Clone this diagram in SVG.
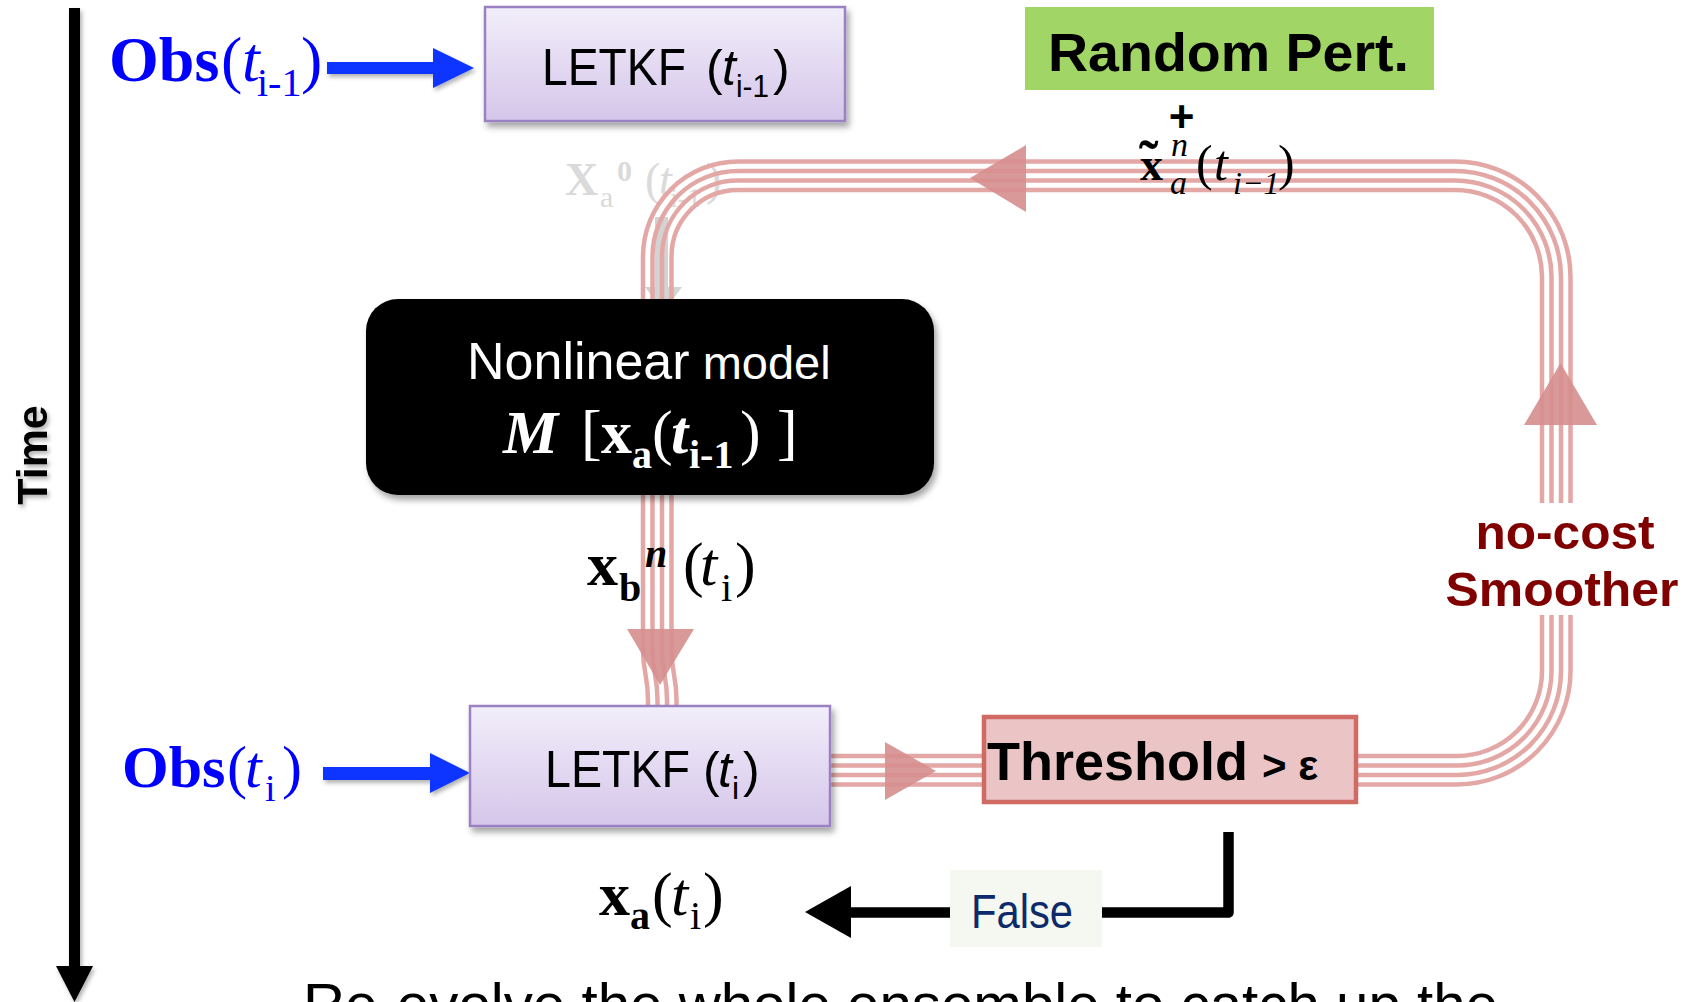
<svg xmlns="http://www.w3.org/2000/svg" width="1686" height="1002" viewBox="0 0 1686 1002">
  <defs>
    <linearGradient id="letkfFill" x1="0" y1="0" x2="0" y2="1">
      <stop offset="0" stop-color="#f2eefa"/>
      <stop offset="1" stop-color="#d5c6ea"/>
    </linearGradient>
    <filter id="shadow" x="-20%" y="-20%" width="140%" height="150%">
      <feDropShadow dx="3" dy="5" stdDeviation="3" flood-color="#000" flood-opacity="0.35"/>
    </filter>
    <filter id="softShadow" x="-20%" y="-40%" width="140%" height="180%">
      <feDropShadow dx="2" dy="3" stdDeviation="2" flood-color="#000" flood-opacity="0.3"/>
    </filter>
  </defs>
  <style>
    .serif { font-family: "Liberation Serif", "Times New Roman", serif; }
    .sans { font-family: "Liberation Sans", Arial, sans-serif; }
    .bold { font-weight: bold; }
    .ital { font-style: italic; }
    .obs { fill: #0000ff; }
    .loop { fill: none; stroke: #e3a8a6; stroke-width: 4.5; }
    .loophead { fill: #d68e8e; fill-opacity: 0.9; }
    .blue { fill: #0a35ff; }
    .letkf { fill: url(#letkfFill); stroke: #9a82c2; stroke-width: 2.5; }
    .faded { fill: #dadada; }
  </style>

  <rect width="1686" height="1002" fill="#ffffff"/>

  <!-- time axis -->
  <g id="time-axis" filter="url(#softShadow)">
    <line x1="74.5" y1="8" x2="74.5" y2="970" stroke="#000" stroke-width="11"/>
    <polygon points="56,966 93,966 74.5,1002" fill="#000"/>
    <text class="sans bold" font-size="43" text-anchor="middle" transform="translate(47,455) rotate(-90)">Time</text>
  </g>

  <!-- faded initial-state label and its small arrow -->
  <g id="initial-state">
    <text class="serif faded" font-size="46"><tspan font-weight="bold" x="565" y="195">X</tspan><tspan font-size="30" x="600" y="207">a</tspan><tspan font-size="30" font-weight="bold" x="617" y="181">0</tspan><tspan x="645" y="195">(</tspan><tspan font-style="italic" x="659" y="195">t</tspan><tspan font-size="28" x="670" y="207">i-1</tspan><tspan x="706" y="195">)</tspan></text>
    <rect x="655" y="217" width="13" height="72" fill="#d3d3d3"/>
    <polygon points="645,287 682,287 663.5,312" fill="#d3d3d3"/>
  </g>

  <!-- connectors -->
  <g id="connectors">
    <!-- iteration loop: four parallel strands -->
    <g id="loop">
      <path class="loop" d="M828 756 H1457 A85 85 0 0 0 1542 671 V615"/>
      <path class="loop" d="M828 765.5 H1457 A94.5 94.5 0 0 0 1551.5 671 V615"/>
      <path class="loop" d="M828 775 H1457 A104 104 0 0 0 1561 671 V615"/>
      <path class="loop" d="M828 784.5 H1457 A113.5 113.5 0 0 0 1570.5 671 V615"/>

      <path class="loop" d="M1542 503 V277 A87 87 0 0 0 1455 190 H738 A66.5 66.5 0 0 0 671.5 256.5 V650 C671.5 672 676.5 676 676.5 700 V708"/>
      <path class="loop" d="M1551.5 503 V277 A96.5 96.5 0 0 0 1455 180.5 H738 A76 76 0 0 0 662 256.5 V650 C662 672 667 676 667 700 V708"/>
      <path class="loop" d="M1561 503 V277 A106 106 0 0 0 1455 171 H738 A85.5 85.5 0 0 0 652.5 256.5 V650 C652.5 672 657.5 676 657.5 700 V708"/>
      <path class="loop" d="M1570.5 503 V277 A115.5 115.5 0 0 0 1455 161.5 H738 A95 95 0 0 0 643 256.5 V650 C643 672 648 676 648 700 V708"/>

      <polygon class="loophead" points="627,629 694,629 660,685"/>
      <polygon class="loophead" points="885,742 885,800 936,771"/>
      <polygon class="loophead" points="1524,425 1597,425 1560.5,363"/>
      <polygon class="loophead" points="1026,145 1026,212 970,178"/>
    </g>

    <!-- observation arrows -->
    <g id="obs-arrows" filter="url(#softShadow)">
      <rect class="blue" x="327" y="62" width="108" height="12"/>
      <polygon class="blue" points="433,48 433,88 474,68"/>
      <rect class="blue" x="323" y="767" width="109" height="13"/>
      <polygon class="blue" points="430,753 430,793 470,773"/>
    </g>

    <!-- false branch -->
    <g id="false-arrow">
      <path d="M1228.5 832 V912.5 H846" fill="none" stroke="#000" stroke-width="10.5" stroke-linejoin="round"/>
      <polygon points="851,886 851,938 805,912" fill="#000"/>
    </g>
  </g>

  <!-- observation labels -->
  <g id="obs-prev">
    <text class="serif obs" font-size="64"><tspan font-weight="bold" x="109" y="81">Obs</tspan><tspan x="221" y="81">(</tspan><tspan font-style="italic" x="242" y="81">t</tspan><tspan font-size="40" x="257" y="96">i-1</tspan><tspan x="301" y="81">)</tspan></text>
  </g>
  <g id="obs-cur">
    <text class="serif obs" font-size="60"><tspan font-weight="bold" x="122" y="787">Obs</tspan><tspan x="227" y="787">(</tspan><tspan font-style="italic" x="245" y="787">t</tspan><tspan font-size="38" x="265" y="801">i</tspan><tspan x="282" y="787">)</tspan></text>
  </g>

  <!-- LETKF at previous time -->
  <g id="letkf-prev">
    <rect class="letkf" x="485" y="7" width="360" height="114" filter="url(#shadow)"/>
    <text class="sans" font-size="52" x="542" y="85" textLength="144" lengthAdjust="spacingAndGlyphs">LETKF</text>
    <text class="sans" font-size="50" x="706" y="85">(</text>
    <text class="sans ital" font-size="50" x="722" y="85">t</text>
    <text class="sans" font-size="32" x="736" y="97" textLength="33" lengthAdjust="spacingAndGlyphs">i-1</text>
    <text class="sans" font-size="50" x="773" y="85">)</text>
  </g>

  <!-- perturbation label -->
  <g id="random-pert">
    <rect x="1025" y="7" width="409" height="83" fill="#a1d566"/>
    <text class="sans bold" font-size="54" x="1048" y="71" textLength="361" lengthAdjust="spacingAndGlyphs">Random Pert.</text>
  </g>

  <g id="perturbed-state">
    <text class="sans bold" font-size="44" x="1181.5" y="132" text-anchor="middle">+</text>
    <text class="serif" font-size="46"><tspan font-weight="bold" x="1140" y="180">x</tspan><tspan font-style="italic" font-size="34" x="1171" y="156">n</tspan><tspan font-style="italic" font-size="34" x="1170" y="194">a</tspan><tspan font-size="50" x="1196" y="180">(</tspan><tspan font-style="italic" font-size="50" x="1214" y="180">t</tspan><tspan font-style="italic" font-size="32" x="1233" y="194">i−1</tspan><tspan font-size="50" x="1278" y="180">)</tspan></text>
    <text class="serif bold" font-size="58" x="1139" y="180">˜</text>
  </g>

  <!-- nonlinear model -->
  <g id="model">
    <rect x="366" y="299" width="568" height="196" rx="32" fill="#000" filter="url(#shadow)"/>
    <text class="sans" fill="#fff" font-size="52" x="467" y="379">Nonlinear<tspan font-size="47"> model</tspan></text>
    <text class="serif" fill="#fff" font-size="62"><tspan font-weight="bold" font-style="italic" x="503" y="453">M</tspan><tspan x="581" y="453">[</tspan><tspan font-weight="bold" x="601" y="453">x</tspan><tspan font-weight="bold" font-size="40" x="632" y="468">a</tspan><tspan x="652" y="453">(</tspan><tspan font-weight="bold" font-style="italic" x="671" y="453">t</tspan><tspan font-weight="bold" font-size="40" x="689" y="468">i-1</tspan><tspan x="740" y="453">)</tspan><tspan x="777" y="453">]</tspan></text>
  </g>

  <g id="background-state">
    <text class="serif" font-size="62"><tspan font-weight="bold" x="587" y="585">x</tspan><tspan font-weight="bold" font-size="40" x="619" y="601">b</tspan><tspan font-weight="bold" font-style="italic" font-size="40" x="645" y="567">n</tspan><tspan x="683" y="585">(</tspan><tspan font-style="italic" x="700" y="585">t</tspan><tspan font-size="40" x="721" y="601">i</tspan><tspan x="735" y="585">)</tspan></text>
  </g>

  <!-- LETKF at current time -->
  <g id="letkf-cur">
    <rect class="letkf" x="470" y="706" width="360" height="120" filter="url(#shadow)"/>
    <text class="sans" font-size="52" x="545" y="787" textLength="145" lengthAdjust="spacingAndGlyphs">LETKF</text>
    <text class="sans" font-size="50" x="703" y="787">(</text>
    <text class="sans ital" font-size="50" x="718" y="787">t</text>
    <text class="sans" font-size="32" x="732" y="799">i</text>
    <text class="sans" font-size="50" x="743" y="787">)</text>
  </g>

  <!-- threshold test -->
  <g id="threshold">
    <rect x="984" y="717" width="372" height="85" fill="#ebc5c5" stroke="#cf6b63" stroke-width="4.5"/>
    <text class="sans bold" font-size="53" x="987" y="780" textLength="261" lengthAdjust="spacingAndGlyphs">Threshold</text>
    <text class="sans bold" font-size="42" x="1262" y="780">&gt; ε</text>
  </g>

  <g id="smoother-label">
    <text class="sans bold" fill="#800000" font-size="48" x="1565" y="549" text-anchor="middle" textLength="179" lengthAdjust="spacingAndGlyphs">no-cost</text>
    <text class="sans bold" fill="#800000" font-size="48" x="1562" y="606" text-anchor="middle" textLength="233" lengthAdjust="spacingAndGlyphs">Smoother</text>
  </g>

  <g id="false-label">
    <rect x="950" y="870" width="152" height="77" fill="#f5f7f1"/>
    <text class="sans" fill="#0d2a6b" font-size="48" x="971" y="928" textLength="102" lengthAdjust="spacingAndGlyphs">False</text>
  </g>

  <g id="analysis">
    <text class="serif" font-size="62"><tspan font-weight="bold" x="599" y="915">x</tspan><tspan font-weight="bold" font-size="40" x="630" y="929">a</tspan><tspan x="652" y="915">(</tspan><tspan font-style="italic" x="671" y="915">t</tspan><tspan font-size="40" x="690" y="929">i</tspan><tspan x="703" y="915">)</tspan></text>
  </g>

  <text class="sans" font-size="58" x="303" y="1024" textLength="1195" lengthAdjust="spacingAndGlyphs">Re-evolve the whole ensemble to catch up the</text>
</svg>
